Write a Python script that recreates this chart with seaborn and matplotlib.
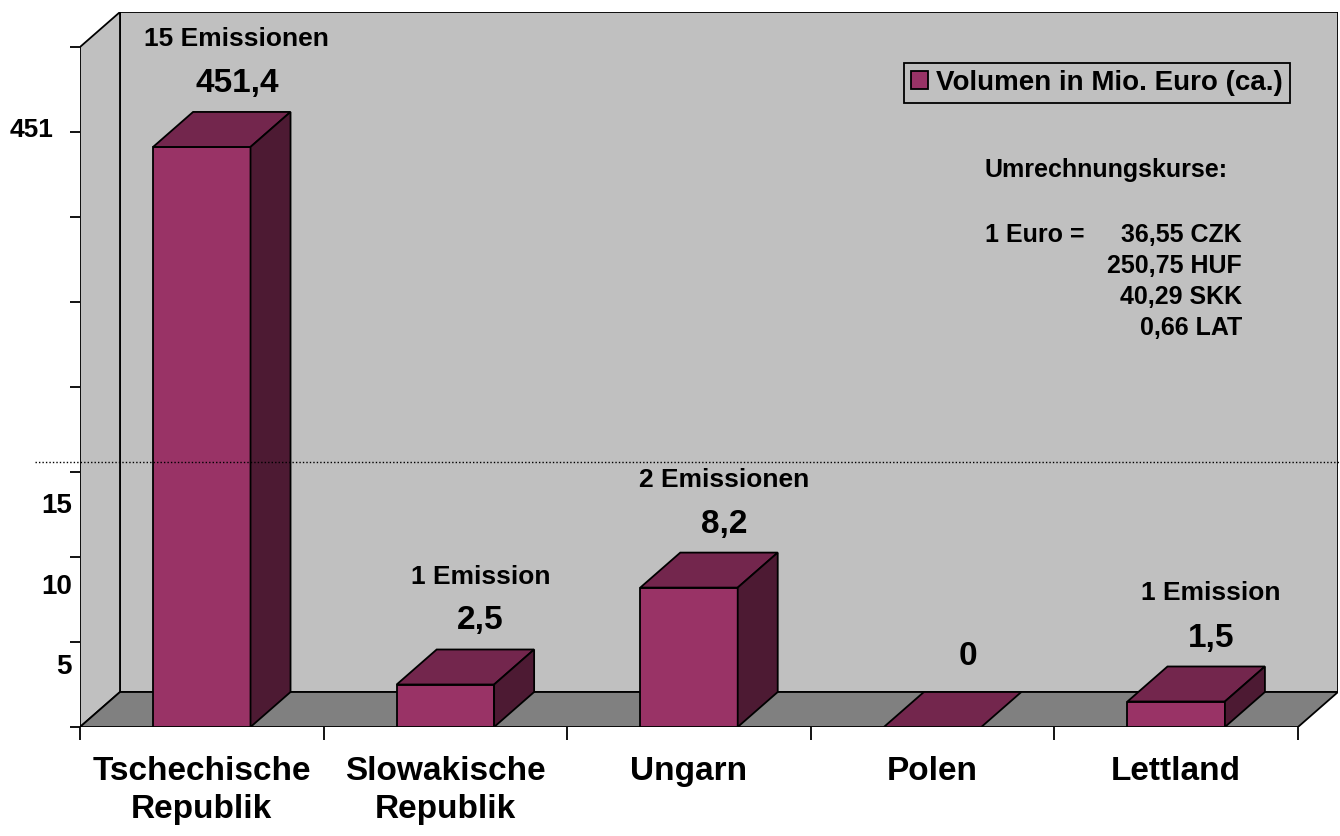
import matplotlib
matplotlib.use('Agg')
import matplotlib.pyplot as plt
import matplotlib.transforms as mtransforms
from matplotlib.patches import Polygon, Patch
import pandas as pd
import seaborn as sns

# data
countries = ['Tschechische\nRepublik', 'Slowakische\nRepublik', 'Ungarn', 'Polen', 'Lettland']
volumes = [451.4, 2.5, 8.2, 0, 1.5]
emissions = [15, 1, 2, 0, 1]
axis_labels = ['5', '10', '15', '451']
rates = ['36,55 CZK', '250,75 HUF', '40,29 SKK', '0,66 LAT']

# broken axis: linear up to brk, compressed above
brk = 15.6
comp = 0.0425


def to_axis(v):
    return v if v <= brk else brk + (v - brk) * comp


# style
sns.set_style('white')
plt.rcParams['font.family'] = ['Liberation Sans', 'DejaVu Sans']
plt.rcParams['font.weight'] = 'bold'
plt.rcParams['text.color'] = 'black'
plt.rcParams['xtick.color'] = 'black'
plt.rcParams['ytick.color'] = 'black'
plt.rcParams['axes.labelcolor'] = 'black'
front_col = '#993366'
top_col = '#73264d'
side_col = '#4d1a33'
wall_col = '#c0c0c0'
floor_col = '#808080'
lw = 1.3

fig = plt.figure(figsize=(13.4, 8.36), dpi=100)
ax = fig.add_axes([80 / 1340, 109 / 836, 1258 / 1340, 715 / 836])
ax.set_facecolor('none')

px_cat = 243.6  # pixels per category
px_unit = 17.0  # pixels per axis unit
dx = 40 / px_cat
dy = 35 / px_unit
ytop = 40 + dy

df = pd.DataFrame({'land': countries, 'h': [to_axis(v) for v in volumes]})
sns.barplot(data=df, x='land', y='h', color=front_col, saturation=1, width=0.4,
            edgecolor='black', linewidth=lw, ax=ax, zorder=3)
bars = list(ax.patches)

# walls and floor
x0w, x1w = -0.5, len(countries) - 0.5
ax.add_patch(Polygon([(x0w + dx, dy), (x1w + dx, dy), (x1w + dx, ytop), (x0w + dx, ytop)],
                     fc=wall_col, ec='black', lw=lw, zorder=0))
ax.add_patch(Polygon([(x0w, 0), (x0w + dx, dy), (x0w + dx, ytop), (x0w, ytop - dy)],
                     fc=wall_col, ec='black', lw=lw, zorder=0))
ax.add_patch(Polygon([(x0w, 0), (x1w, 0), (x1w + dx, dy), (x0w + dx, dy)],
                     fc=floor_col, ec='black', lw=lw, zorder=1))

# 3d extrusions + labels
for p, v, n in zip(bars, volumes, emissions):
    x0, w, h = p.get_x(), p.get_width(), p.get_height()
    ax.add_patch(Polygon([(x0, h), (x0 + w, h), (x0 + w + dx, h + dy), (x0 + dx, h + dy)],
                         fc=top_col, ec='black', lw=lw, zorder=4))
    if h > 0:
        ax.add_patch(Polygon([(x0 + w, 0), (x0 + w + dx, dy), (x0 + w + dx, h + dy), (x0 + w, h)],
                             fc=side_col, ec='black', lw=lw, zorder=4))
    txt = '0' if v == 0 else f'{v:.1f}'.replace('.', ',')
    off = 20 if v > 0 else 27
    ax.annotate(txt, xy=(x0 + w / 2 + dx, h + dy), xytext=(-5, off), textcoords='offset pixels',
                ha='center', va='baseline', fontsize=24, fontweight='bold')
    if n > 0:
        et = f'{n} Emission' if n == 1 else f'{n} Emissionen'
        ax.annotate(et, xy=(x0 + w / 2 + dx, h + dy), xytext=(-5, off + 46),
                    textcoords='offset pixels', ha='center', va='baseline',
                    fontsize=19, fontweight='bold')

ax.set_xlim(x0w, x1w + dx)
ax.set_ylim(0, ytop)
for s in ax.spines.values():
    s.set_visible(False)

# y axis ticks (broken axis labels placed by hand)
ax.set_yticks(range(0, 41, 5))
ax.set_yticklabels([])
ax.tick_params(axis='y', length=7.5, width=lw, direction='out', color='black', left=True)
label_pos = [3.5, 8.25, 13.0, 35.1]
label_off = [-8, -8, -8, -27]
label_fs = [20, 20, 20, 19]
for t, yp, o, fs in zip(axis_labels, label_pos, label_off, label_fs):
    ax.annotate(t, xy=(x0w, yp), xytext=(o, 0), textcoords='offset pixels',
                ha='right', va='center', fontsize=fs, fontweight='bold')

# x axis
ax.set_xticks(range(len(countries)))
ax.set_xticklabels(countries, fontsize=24, fontweight='bold', linespacing=1.3, color='black')
ax.set_xticks([i - 0.5 for i in range(len(countries) + 1)], minor=True)
ax.tick_params(axis='x', which='major', length=0, pad=21, bottom=True)
ax.tick_params(axis='x', which='minor', length=9.5, width=lw, direction='out', color='black', bottom=True)
ax.set_xlabel('')
ax.set_ylabel('')

# break line
tr = mtransforms.blended_transform_factory(fig.transFigure, ax.transData)
ax.plot([35 / 1340, 1], [brk, brk], transform=tr, color='black', lw=1,
        ls=(0, (1, 1.5)), clip_on=False, zorder=10)

# legend
leg = fig.legend(handles=[Patch(facecolor=front_col, edgecolor='black', lw=lw)],
                 labels=['Volumen in Mio. Euro (ca.)'], loc='upper right',
                 bbox_to_anchor=(1290 / 1340, 1 - 63 / 836), bbox_transform=fig.transFigure,
                 frameon=True, fancybox=False, edgecolor='black', facecolor=wall_col,
                 framealpha=1, prop=dict(weight='bold', size=20), handlelength=0.6,
                 handleheight=0.6, handletextpad=0.3, borderpad=0.25, borderaxespad=0)
leg.get_frame().set_linewidth(lw)
for t in leg.get_texts():
    t.set_color('black')

# conversion rates
fig.text(985 / 1340, 1 - 177 / 836, 'Umrechnungskurse:', fontsize=18, fontweight='bold', va='baseline')
fig.text(985 / 1340, 1 - 242 / 836, '1 Euro =', fontsize=18, fontweight='bold', va='baseline')
for i, r in enumerate(rates):
    fig.text(1242 / 1340, 1 - (242 + 31 * i) / 836, r, fontsize=18, fontweight='bold',
             ha='right', va='baseline')

fig.savefig('out.png', dpi=100)
